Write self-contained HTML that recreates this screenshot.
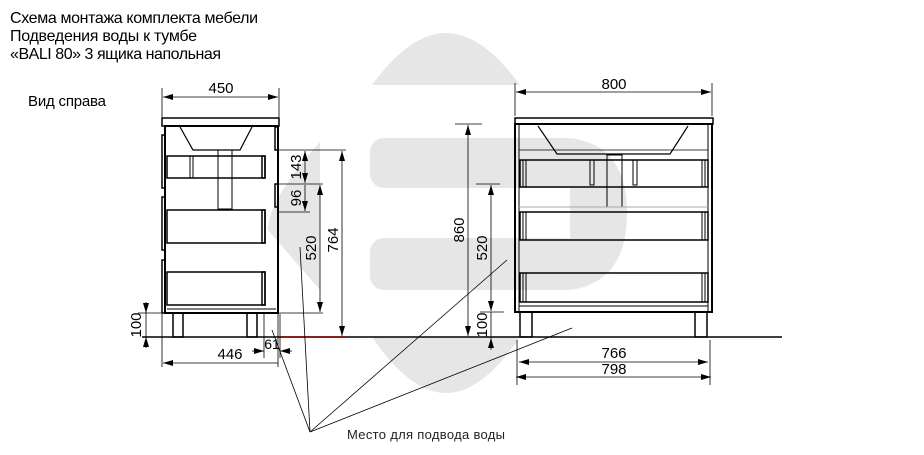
<!DOCTYPE html>
<html><head><meta charset="utf-8"><style>html,body{margin:0;padding:0;background:#fff}svg{display:block}</style></head>
<body>
<svg width="924" height="455" viewBox="0 0 924 455" xmlns="http://www.w3.org/2000/svg" font-family="Liberation Sans, sans-serif">
<defs>
<marker id="a" viewBox="0 0 10 6" refX="10" refY="3" markerWidth="10" markerHeight="6" orient="auto-start-reverse" markerUnits="userSpaceOnUse"><path d="M0,0L10,3L0,6z" fill="#000"/></marker>
</defs>
<!-- watermark -->
<g fill="#e6e6e6">
<path d="M372,85 Q410,33 446,33 Q482,33 520,85 Z"/>
<rect x="370" y="138" width="210" height="50" rx="14"/>
<rect x="370" y="238" width="210" height="52" rx="14"/>
<path d="M570,138 Q627,145 627,213 Q627,282 570,290 Z"/>
<path d="M372,337 H520 Q482,393 446,393 Q410,393 372,337 Z"/>
<path d="M320,142 L320,290 L268,230 Q268,200 320,142 Z"/>
</g>
<g font-size="16" fill="#000">
<text x="10" y="23" textLength="248">Схема монтажа комплекта мебели</text>
<text x="10" y="41" textLength="187">Подведения воды к тумбе</text>
<text x="10" y="59" textLength="211">«BALI 80» 3 ящика напольная</text>
<text x="28" y="106" font-size="15" textLength="78">Вид справа</text>
</g>
<text x="347" y="439" font-size="13" fill="#222" textLength="158">Место для подвода воды</text>

<g stroke="#000" fill="none">
<line x1="142" y1="337" x2="782" y2="337" stroke-width="1.5"/>
<line x1="280" y1="337" x2="345" y2="337" stroke="#8b0000" stroke-width="1.5"/>

<!-- LEFT CABINET -->
<rect x="162" y="118" width="117" height="8" stroke-width="1.5"/>
<rect x="165" y="126" width="113" height="187" stroke-width="2"/>
<rect x="162" y="135" width="3" height="53" stroke-width="1.5"/>
<rect x="162" y="197" width="3" height="53" stroke-width="1.5"/>
<rect x="162" y="260" width="3" height="53" stroke-width="1.5"/>
<rect x="275" y="127" width="3" height="23" stroke-width="1.5"/>
<rect x="275" y="184" width="3" height="23" stroke-width="1.5"/>
<path d="M180,127 L193,150 L240,150 L252,127" stroke-width="1.2"/>
<rect x="218" y="150" width="14" height="59" stroke-width="1"/>
<rect x="167" y="156" width="98" height="22" stroke-width="1.5"/>
<rect x="190" y="156" width="3" height="22" stroke-width="1"/>
<rect x="262" y="156" width="3" height="22" stroke-width="1.5"/>
<rect x="167" y="210" width="98" height="33" stroke-width="1.5"/>
<rect x="262" y="210" width="3" height="33" stroke-width="1.5"/>
<rect x="167" y="272" width="98" height="33" stroke-width="1.5"/>
<rect x="262" y="272" width="3" height="33" stroke-width="1.5"/>
<line x1="167" y1="309" x2="276" y2="309" stroke-width="1"/>
<rect x="173" y="313" width="10" height="24" stroke-width="1.5"/>
<rect x="247" y="313" width="10" height="24" stroke-width="1.5"/>

<g stroke-width="0.8">
<line x1="162" y1="88" x2="162" y2="117"/><line x1="279" y1="88" x2="279" y2="117"/>
<line x1="163" y1="97" x2="278" y2="97" marker-start="url(#a)" marker-end="url(#a)"/>
<line x1="278" y1="150" x2="346" y2="150"/><line x1="278" y1="184" x2="323" y2="184"/>
<line x1="278" y1="212" x2="310" y2="212"/><line x1="278" y1="313" x2="323" y2="313"/>
<line x1="305" y1="151" x2="305" y2="183" marker-start="url(#a)" marker-end="url(#a)"/>
<line x1="305" y1="185" x2="305" y2="211" marker-end="url(#a)"/>
<line x1="320" y1="185" x2="320" y2="312" marker-start="url(#a)" marker-end="url(#a)"/>
<line x1="342" y1="151" x2="342" y2="336" marker-start="url(#a)" marker-end="url(#a)"/>
<line x1="138" y1="313" x2="162" y2="313"/>
<line x1="146" y1="302" x2="146" y2="313" marker-end="url(#a)"/>
<line x1="146" y1="348" x2="146" y2="337" marker-end="url(#a)"/>
<line x1="146" y1="313" x2="146" y2="337"/>
<line x1="162" y1="314" x2="162" y2="367"/><line x1="278" y1="314" x2="278" y2="367"/>
<line x1="163" y1="363" x2="278" y2="363" marker-start="url(#a)"/>
<line x1="264" y1="314" x2="264" y2="358"/><line x1="280" y1="314" x2="280" y2="358"/>
<line x1="252" y1="351" x2="264" y2="351" marker-end="url(#a)"/>
<line x1="292" y1="351" x2="280" y2="351" marker-end="url(#a)"/>
</g>

<!-- RIGHT CABINET -->
<rect x="515" y="118" width="198" height="6" stroke-width="1.5"/>
<rect x="515" y="124" width="197" height="188" stroke-width="2"/>
<line x1="519" y1="124" x2="519" y2="312" stroke-width="1"/>
<line x1="708" y1="124" x2="708" y2="312" stroke-width="1"/>
<path d="M538,126 L557,154 L670,154 L688,126" stroke-width="1.2"/>
<line x1="519" y1="150" x2="708" y2="150" stroke-width="0.8"/>
<rect x="520" y="160" width="188" height="27" stroke-width="1.5"/>
<rect x="523" y="160" width="3" height="27" stroke-width="1"/>
<rect x="702" y="160" width="3" height="27" stroke-width="1"/>
<rect x="590" y="160" width="4" height="25" stroke-width="1"/>
<rect x="633" y="160" width="4" height="25" stroke-width="1"/>
<rect x="607" y="155" width="15" height="52" stroke-width="1"/>
<line x1="519" y1="207" x2="708" y2="207" stroke="#aaa" stroke-width="1"/>
<rect x="520" y="212" width="188" height="28" stroke-width="1.5"/>
<rect x="523" y="212" width="3" height="28" stroke-width="1"/>
<rect x="702" y="212" width="3" height="28" stroke-width="1"/>
<rect x="520" y="273" width="188" height="29" stroke-width="1.5"/>
<rect x="523" y="273" width="3" height="29" stroke-width="1"/>
<rect x="702" y="273" width="3" height="29" stroke-width="1"/>
<line x1="519" y1="306" x2="708" y2="306" stroke-width="1"/>
<rect x="520" y="312" width="12" height="25" stroke-width="1.5"/>
<rect x="695" y="312" width="12" height="25" stroke-width="1.5"/>

<g stroke-width="0.8">
<line x1="515" y1="83" x2="515" y2="116"/><line x1="712" y1="83" x2="712" y2="116"/>
<line x1="516" y1="92" x2="711" y2="92" marker-start="url(#a)" marker-end="url(#a)"/>
<line x1="455" y1="124" x2="482" y2="124"/>
<line x1="468" y1="125" x2="468" y2="336" marker-start="url(#a)" marker-end="url(#a)"/>
<line x1="476" y1="184" x2="500" y2="184"/><line x1="480" y1="312" x2="504" y2="312"/>
<line x1="491" y1="185" x2="491" y2="311" marker-start="url(#a)" marker-end="url(#a)"/>
<line x1="491" y1="312" x2="491" y2="337"/>
<line x1="491" y1="350" x2="491" y2="338" marker-end="url(#a)"/>
<line x1="517" y1="340" x2="517" y2="385"/><line x1="710" y1="340" x2="710" y2="385"/>
<line x1="519" y1="362" x2="708" y2="362" marker-start="url(#a)" marker-end="url(#a)"/>
<line x1="516" y1="377" x2="711" y2="377" marker-start="url(#a)" marker-end="url(#a)"/>
</g>

<g stroke-width="0.8">
<line x1="310" y1="432" x2="272" y2="330"/>
<line x1="310" y1="432" x2="300" y2="247"/>
<line x1="310" y1="432" x2="507" y2="260"/>
<line x1="310" y1="432" x2="572" y2="328"/>
</g>
</g>

<g font-size="15" fill="#000" text-anchor="middle">
<text x="221" y="93">450</text>
<text x="614" y="89">800</text>
<text x="230" y="359">446</text>
<text x="272" y="349" font-size="14">61</text>
<text x="614" y="358">766</text>
<text x="614" y="374">798</text>
<text transform="translate(301,167) rotate(-90)">143</text>
<text transform="translate(301,198) rotate(-90)">96</text>
<text transform="translate(316,248) rotate(-90)">520</text>
<text transform="translate(338,240) rotate(-90)">764</text>
<text transform="translate(141,325) rotate(-90)">100</text>
<text transform="translate(464,230) rotate(-90)">860</text>
<text transform="translate(487,248) rotate(-90)">520</text>
<text transform="translate(487,325) rotate(-90)">100</text>
</g>
</svg>
</body></html>
